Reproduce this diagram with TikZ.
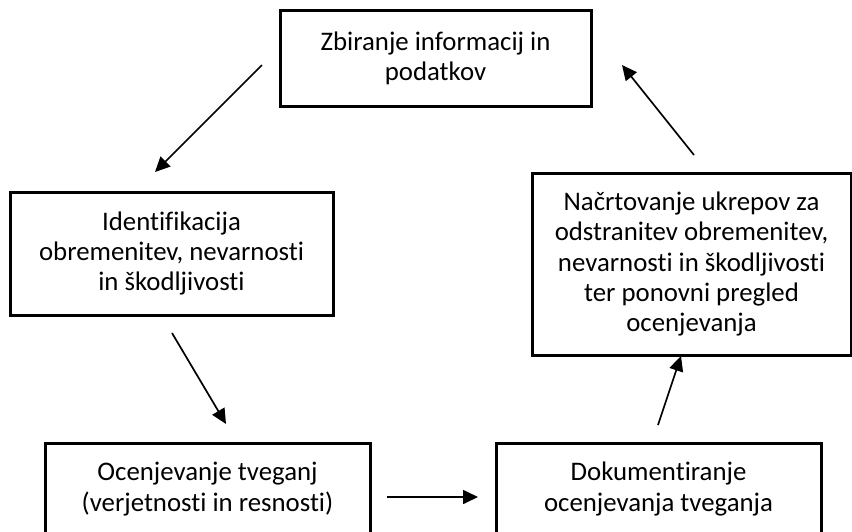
\documentclass[tikz,border=0pt]{standalone}
\usepackage{fontspec}
\setmainfont[Ligatures={NoCommon}]{Carlito}
\usetikzlibrary{arrows.meta}
\tikzset{
  box/.style={draw=black, line width=3pt, rectangle, inner sep=0pt, align=center,
    font=\fontsize{26.8}{30.2}\selectfont},
  arr/.style={line width=1.7pt, -{Triangle[length=15pt,width=14pt]}}
}
\begin{document}
\begin{tikzpicture}[x=1pt,y=-1pt]
\useasboundingbox (0,0) rectangle (852,531);
\clip (0,0) rectangle (852,531);
\fill[white] (0,0) rectangle (852,531);
\node[box, minimum width=311pt, minimum height=96pt] (zb) at (435.5,58) {Zbiranje informacij in\\podatkov};
\node[box, minimum width=323pt, minimum height=123pt] (id) at (171.5,253.5) {Identifikacija\\obremenitev, nevarnosti\\in škodljivosti};
\node[box, minimum width=319pt, minimum height=182pt] (na) at (691.5,264) {Načrtovanje ukrepov za\\odstranitev obremenitev,\\nevarnosti in škodljivosti\\ter ponovni pregled\\ocenjevanja};
\node[box, minimum width=325pt, minimum height=92pt] (oc) at (207.5,489) {Ocenjevanje tveganj\\(verjetnosti in resnosti)};
\node[box, minimum width=325pt, minimum height=92pt] (do) at (658.5,489) {Dokumentiranje\\ocenjevanja tveganja};
\coordinate (a1s) at (262,65);  \coordinate (a1e) at (155,172);
\coordinate (a2s) at (172,333); \coordinate (a2e) at (226,424);
\coordinate (a3s) at (387,497); \coordinate (a3e) at (478,497);
\coordinate (a4s) at (658,425); \coordinate (a4e) at (681,356);
\coordinate (a5s) at (694,155); \coordinate (a5e) at (622,65);
\draw[arr] (a1s) -- (a1e);
\draw[arr] (a2s) -- (a2e);
\draw[arr] (a3s) -- (a3e);
\draw[arr] (a4s) -- (a4e);
\draw[arr] (a5s) -- (a5e);
\end{tikzpicture}
\end{document}
